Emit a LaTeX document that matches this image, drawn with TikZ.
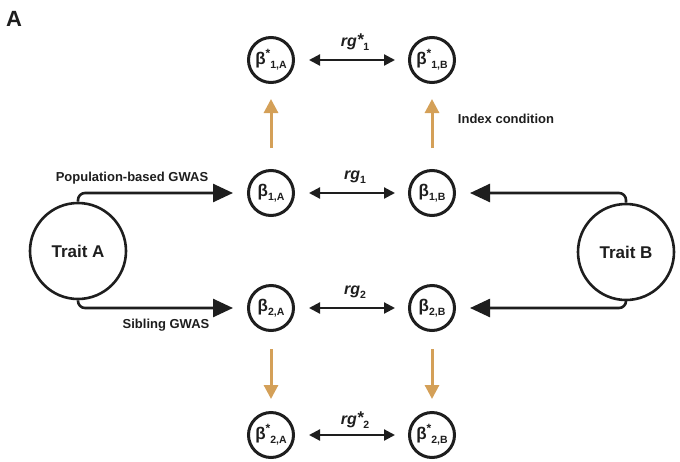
\documentclass[tikz,border=0pt]{standalone}
\usepackage{fontspec}
\setmainfont{Liberation Sans}
\usetikzlibrary{arrows.meta}
\definecolor{tanarrow}{RGB}{212,160,88}
\definecolor{ink}{RGB}{30,30,30}
\newcommand\mysub[1]{\raisebox{-0.45ex}{\fontsize{10.5}{10.5}\selectfont #1}}
\newcommand\mysup[1]{\raisebox{0.75ex}{\fontsize{12}{12}\selectfont #1}}
\newcommand\rgstar{\raisebox{0.2ex}{\fontsize{17}{17}\selectfont\itshape *}}
\newcommand\bstar[1]{β\mysup{*}\mysub{#1}}
\newcommand\bplain[1]{β\mysub{#1}}
\begin{document}
\begin{tikzpicture}[x=1pt,y=-1pt,
  beta/.style={circle,draw=ink,text=ink,line width=3pt,minimum size=45pt,inner sep=0pt,
    font=\bfseries\fontsize{17}{17}\selectfont},
  trait/.style={circle,draw=ink,text=ink,line width=2.6pt,minimum size=96pt,inner sep=0pt,
    font=\bfseries\fontsize{17}{17}\selectfont},
  gwas/.style={draw=ink,line width=2.6pt,rounded corners=7pt,
    -{Triangle[length=20pt,width=18pt]},shorten >=14pt},
  rgarrow/.style={draw=ink,line width=2.2pt,
    {Triangle[length=11pt,width=11pt]}-{Triangle[length=11pt,width=11pt]},
    shorten <=14pt,shorten >=13pt},
  idx/.style={draw=tanarrow,line width=3pt,-{Triangle[length=14pt,width=14pt]}},
  lbl/.style={text=ink,font=\bfseries\fontsize{13}{13}\selectfont,inner sep=0pt},
  rglbl/.style={text=ink,font=\bfseries\fontsize{16}{16}\selectfont,inner sep=0pt}]
\useasboundingbox (0,0) rectangle (680,461);

\node[text=ink,font=\bfseries\fontsize{22}{22}\selectfont,inner sep=0pt] (panel) at (14,19) {A};

\node[beta] (b1sA) at (271,60) {\bstar{1,A}};
\node[beta] (b1sB) at (432,60) {\bstar{1,B}};
\node[beta] (b1A) at (271,193) {\bplain{1,A}};
\node[beta] (b1B) at (432,193) {\bplain{1,B}};
\node[beta] (b2A) at (271,308) {\bplain{2,A}};
\node[beta] (b2B) at (432,308) {\bplain{2,B}};
\node[beta] (b2sA) at (271,435) {\bstar{2,A}};
\node[beta] (b2sB) at (432,435) {\bstar{2,B}};

\node[trait] (TA) at (78,251) {Trait A};
\node[trait] (TB) at (626,252) {Trait B};

\draw[gwas] (TA.north) |- (b1A.west);
\draw[gwas] (TA.south) |- (b2A.west);
\draw[gwas] (TB.north) |- (b1B.east);
\draw[gwas] (TB.south) |- (b2B.east);

\draw[rgarrow] (b1sA) -- (b1sB);
\draw[rgarrow] (b1A) -- (b1B);
\draw[rgarrow] (b2A) -- (b2B);
\draw[rgarrow] (b2sA) -- (b2sB);

\draw[idx,shorten <=21pt,shorten >=15pt] (b1A) -- (b1sA);
\draw[idx,shorten <=21pt,shorten >=15pt] (b1B) -- (b1sB);
\draw[idx,shorten <=17pt,shorten >=12pt] (b2A) -- (b2sA);
\draw[idx,shorten <=17pt,shorten >=12pt] (b2B) -- (b2sB);

\node[rglbl] (rg1s) at (355,42) {\textit{rg}\rgstar\mysub{1}};
\node[rglbl] (rg1) at (355,177) {\textit{rg}\mysub{1}};
\node[rglbl] (rg2) at (355,292) {\textit{rg}\mysub{2}};
\node[rglbl] (rg2s) at (355,420) {\textit{rg}\rgstar\mysub{2}};

\node[lbl] (pop) at (132,178) {Population-based GWAS};
\node[lbl] (sib) at (166,325) {Sibling GWAS};
\node[lbl] (index) at (506,119) {Index condition};
\end{tikzpicture}
\end{document}
